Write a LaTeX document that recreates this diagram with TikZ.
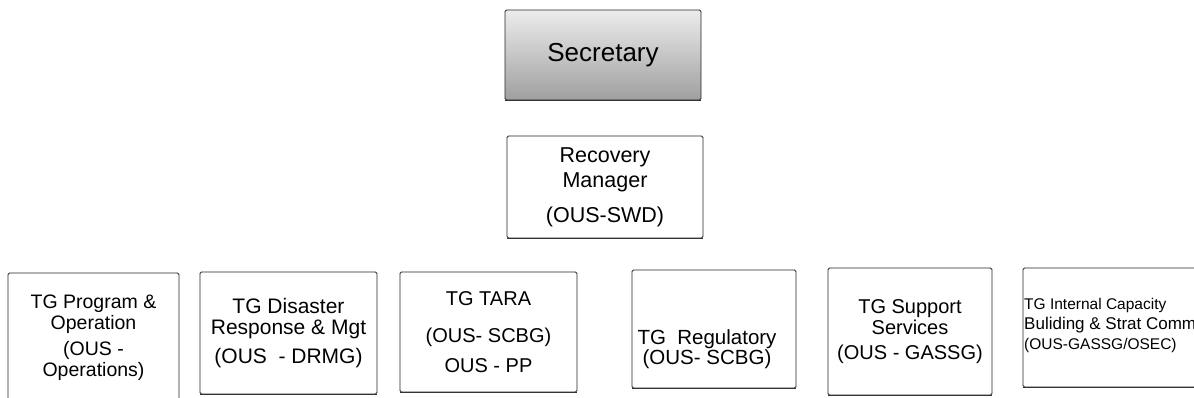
\documentclass[tikz,border=0pt]{standalone}
\usepackage{fontspec}
\setmainfont{Liberation Sans}
\usetikzlibrary{positioning}

\begin{document}
\begin{tikzpicture}[x=1pt, y=-1pt,
                      every node/.style = {align=center, inner sep=0pt},
                      tgbox/.style = {shape=rectangle, rounded corners=1.5pt,
                        draw=black!85, line width=0.8pt, fill=white},
                      tgfont/.style = {font=\fontsize{#1}{21}\selectfont},
                      tgfont/.default = 19.5]
  \useasboundingbox (0,0) rectangle (1194,398);
  % top of the chart
  \node[tgbox, top color=gray!15, bottom color=gray!75, minimum width=196,
        minimum height=90, font=\fontsize{26}{28}\selectfont]
        (sec) at (603,55) {Secretary};
  \node[tgbox, minimum width=196, minimum height=102,
        font=\fontsize{21.5}{25}\selectfont]
        (rec) at (605,187) {Recovery\\Manager\\[10pt](OUS-SWD)};
  % task groups
  \node[tgbox, tgfont, minimum width=171, minimum height=129]
        (prog) at (93.5,337.5) {TG Program \&\\Operation\\[5pt](OUS -\\Operations)};
  \node[tgbox, tgfont=21, minimum width=177, minimum height=122]
        (drmg) at (288.5,333) {TG Disaster\\Response \& Mgt\\[8pt](OUS\ \ - DRMG)};
  \node[tgbox, tgfont=20, minimum width=177, minimum height=120]
        (tara) at (488.5,332) {TG TARA\\[16pt](OUS- SCBG)\\[9pt]OUS - PP};
  \node[tgbox, minimum width=164, minimum height=118]
        (reg) at (714,329) {};
  \node[font=\fontsize{20.5}{20}\selectfont]
        (regtext) at (707,349) {TG\ \ Regulatory\\(OUS- SCBG)};
  \node[tgbox, tgfont=20, minimum width=164, minimum height=127]
        (supp) at (910,331.5) {TG Support\\Services\\[4pt](OUS - GASSG)};
  \node[tgbox, minimum width=182, minimum height=119]
        (icb) at (1114,327.5) {};
  \node[anchor=west, align=left, font=\fontsize{15.5}{20}\selectfont]
        (icbtext) at (1024,325) {TG Internal Capacity\\{\fontsize{17}{20}\selectfont Buliding \& Strat Comm}\\(OUS-GASSG/OSEC)};
  % heavier lower edges
  \foreach \b in {sec,rec,prog,drmg,tara,reg,supp,icb}
    \draw[line width=1.4pt, black!80] (\b.south west) -- (\b.south east);
\end{tikzpicture}
\end{document}
